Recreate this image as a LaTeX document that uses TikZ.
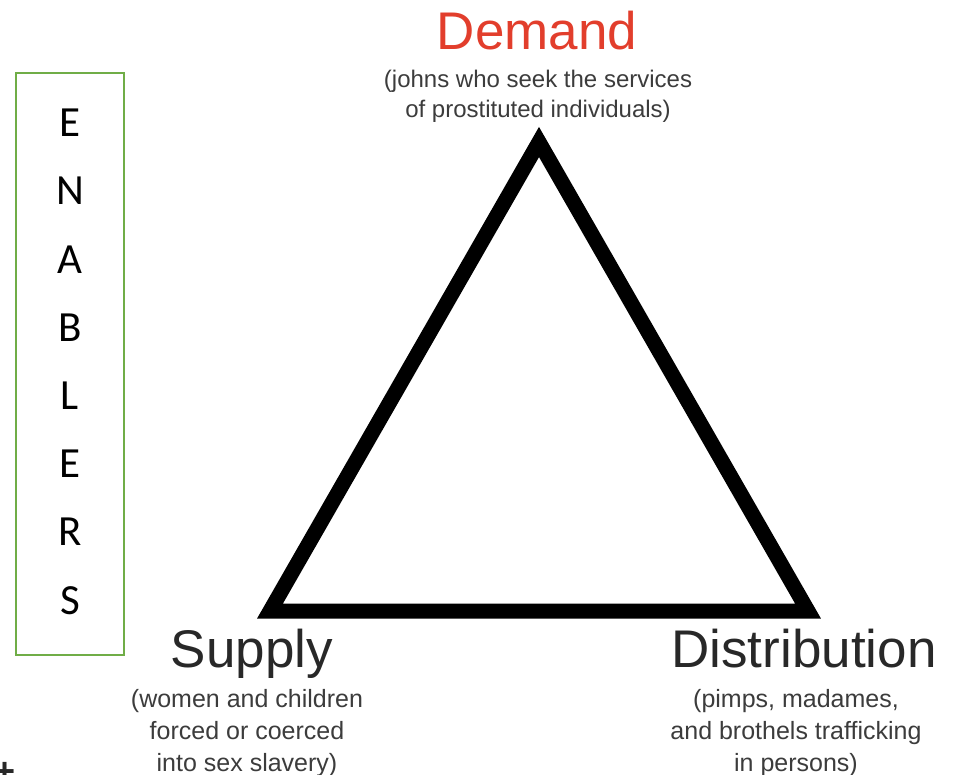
\documentclass[tikz,border=0pt]{standalone}
\usepackage{fontspec}
\setmainfont{Liberation Sans}
\newfontfamily\calibri{Carlito}
\usepackage{tikz}
\usetikzlibrary{positioning}

\definecolor{demandred}{RGB}{226,62,44}
\definecolor{boxgreen}{RGB}{112,173,71}
\definecolor{textgrey}{RGB}{40,40,40}
\definecolor{subgrey}{RGB}{60,60,60}

\tikzset{
  title/.style={inner sep=0pt, anchor=base, text=textgrey, font=\fontsize{53}{60}\selectfont},
  subtitle/.style={inner sep=0pt, anchor=north, align=center, text=subgrey},
  letter/.style={inner sep=0pt, font=\calibri\fontsize{43}{43}\selectfont}
}

\begin{document}
\begin{tikzpicture}[x=1pt, y=-1pt]
    \useasboundingbox (0,0) rectangle (966,775);
    % triangle
    \coordinate (apex) at (539,142);
    \coordinate (left) at (270,611);
    \coordinate (right) at (808,611);
    \draw[line width=15pt, line join=miter] (apex) -- (left) -- (right) -- cycle;

    % corner labels
    \node[title, text=demandred] (demand) at (537,50) {Demand};
    \node[subtitle, font=\fontsize{24}{30}\selectfont] (demandsub) at (538,70)
        {(johns who seek the services\\of prostituted individuals)};
    \node[title] (supply) at (252,667) {Supply};
    \node[subtitle, font=\fontsize{25}{32}\selectfont] (supplysub) at (247,689)
        {(women and children\\forced or coerced\\into sex slavery)};
    \node[title] (distribution) at (804,667) {Distribution};
    \node[subtitle, font=\fontsize{25}{32}\selectfont] (distsub) at (796,689)
        {(pimps, madames,\\and brothels trafficking\\in persons)};

    % enablers box
    \node[draw=boxgreen, line width=2.6pt, minimum width=108pt, minimum height=582pt] (box) at (70,364) {};
    \foreach \l [count=\i] in {E,N,A,B,L,E,R,S}
        \node[letter] (l\i) at (70,{54.8+68.2*\i}) {\l};

    \node[inner sep=0pt, text=textgrey, font=\bfseries\fontsize{36}{36}\selectfont] (plus) at (5.5,773) {+};
  \end{tikzpicture}
\end{document}
